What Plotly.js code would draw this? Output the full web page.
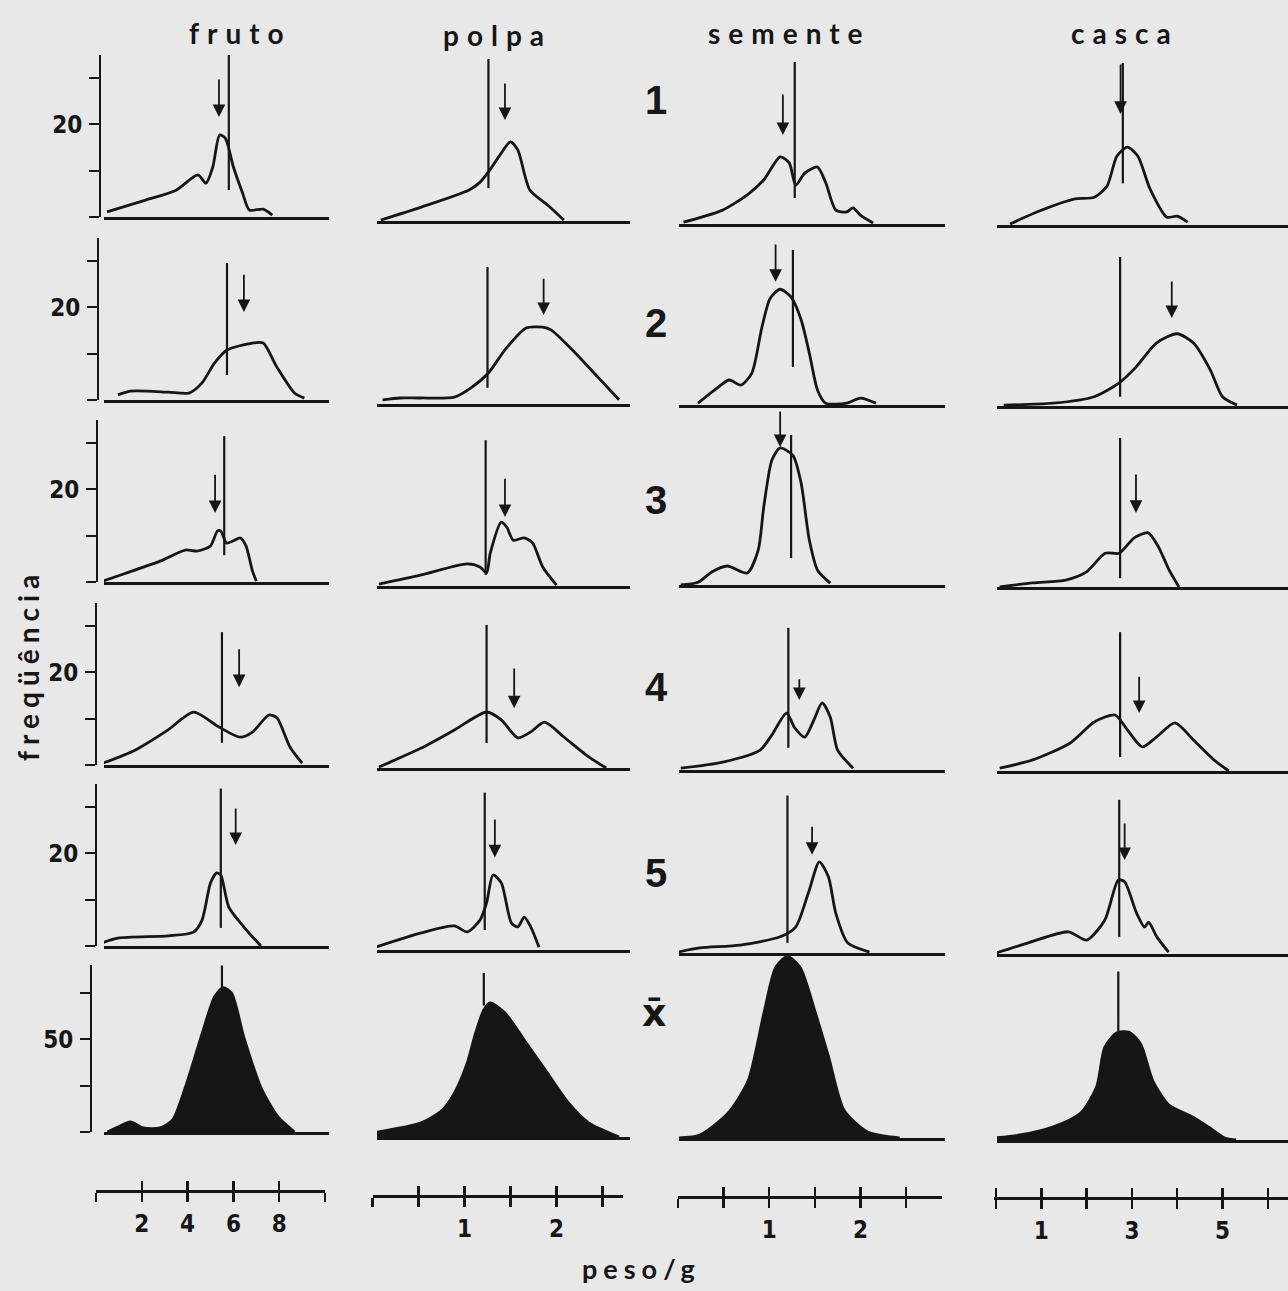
<!DOCTYPE html>
<html><head><meta charset="utf-8">
<script src="https://cdn.plot.ly/plotly-3.0.1.min.js"></script>
<style>body{margin:0;background:#e8e8e8}</style>
</head><body><div id="chart" style="width:1288px;height:1291px"></div>
<script>
// ---------- DATA ----------
const columns = ['fruto', 'polpa', 'semente', 'casca'];
const rowLabels = ['1', '2', '3', '4', '5', 'x̄'];

// row 1
const fruto1_x = [0.48, 2.2, 3.5, 4.45, 4.8, 5.1, 5.4, 5.65, 6.0, 6.4, 6.7, 7.3, 7.7];
const fruto1_y = [1.1, 3.7, 5.8, 9.1, 7.3, 10.8, 17.7, 17, 10.8, 5.2, 1.5, 1.7, 0.4];
const polpa1_x = [0.09, 0.53, 1.05, 1.17, 1.26, 1.37, 1.5, 1.58, 1.71, 1.9, 2.08];
const polpa1_y = [0.2, 3.0, 6.7, 8.4, 10.6, 13.8, 17.1, 15.3, 6.7, 3.5, 0.2];
const semente1_x = [0.06, 0.26, 0.49, 0.76, 0.94, 1.12, 1.22, 1.29, 1.39, 1.53, 1.62, 1.73, 1.85, 1.92, 2.0, 2.14];
const semente1_y = [0.4, 1.5, 3.0, 6.3, 9.5, 14.5, 13.2, 8.4, 11.0, 12.3, 8.9, 3.0, 2.6, 3.5, 1.9, 0.2];
const casca1_x = [0.31, 0.9, 1.72, 2.17, 2.45, 2.67, 2.9, 3.13, 3.4, 3.77, 4.0, 4.23];
const casca1_y = [0.2, 2.8, 5.6, 6.0, 8.4, 14.9, 16.8, 14.9, 7.8, 1.7, 1.9, 0.6];
// row 2
const fruto2_x = [0.96, 1.5, 3.15, 4.06, 4.63, 5.18, 5.72, 6.83, 7.3, 7.9, 8.67, 9.1];
const fruto2_y = [1.1, 1.9, 1.7, 1.5, 3.7, 8.0, 10.8, 12.3, 12.3, 7.1, 1.5, 0.4];
const polpa2_x = [0.11, 0.3, 0.53, 0.89, 1.07, 1.26, 1.44, 1.67, 1.85, 1.94, 2.17, 2.45, 2.68];
const polpa2_y = [0.9, 1.3, 1.3, 1.5, 3.5, 6.7, 11.7, 16.4, 16.6, 16.0, 11.7, 5.8, 0.9];
const semente2_x = [0.22, 0.4, 0.56, 0.69, 0.81, 0.92, 1.01, 1.12, 1.24, 1.35, 1.44, 1.53, 1.62, 1.85, 2.0, 2.17];
const semente2_y = [0.4, 3.2, 5.4, 4.3, 6.9, 16.8, 23, 25, 23.3, 18.4, 11.2, 3.2, 0.4, 0.4, 1.5, 0.4];
const casca2_x = [0.17, 1.26, 2.17, 2.72, 3.09, 3.54, 4.0, 4.36, 4.73, 5.0, 5.32];
const casca2_y = [0.2, 0.6, 2.0, 5.0, 8.4, 13.6, 15.6, 13.6, 7.8, 2.0, 0.2];
// row 3
const fruto3_x = [0.3, 1.3, 2.8, 3.9, 4.45, 5.0, 5.3, 5.45, 5.7, 6.0, 6.3, 6.55, 6.83, 7.0];
const fruto3_y = [0.2, 1.9, 4.5, 6.9, 6.7, 7.8, 11, 11, 8.4, 8.9, 9.5, 7.8, 2.4, 0.2];
const polpa3_x = [0.07, 0.53, 1.03, 1.17, 1.24, 1.28, 1.4, 1.46, 1.53, 1.65, 1.74, 1.85, 2.0];
const polpa3_y = [0.4, 2.4, 4.8, 4.1, 2.8, 7.1, 13.8, 12.7, 9.9, 10.4, 9.3, 4.1, 0.2];
const semente3_x = [0.03, 0.22, 0.37, 0.54, 0.76, 0.88, 0.94, 1.03, 1.12, 1.26, 1.35, 1.44, 1.53, 1.67];
const semente3_y = [0, 0.6, 2.8, 4.1, 2.6, 7.6, 16.8, 27, 29.6, 28, 22, 9.7, 3.2, 0.4];
const casca3_x = [0.08, 0.81, 1.54, 1.99, 2.41, 2.72, 3.05, 3.36, 3.59, 3.82, 4.04];
const casca3_y = [0, 0.9, 1.5, 3.2, 7.3, 7.3, 10.6, 11.7, 8.6, 3.7, 0];
// row 4
const fruto4_x = [0.3, 1.7, 3.15, 4.26, 5.37, 6.3, 6.83, 7.55, 7.9, 8.47, 9.0];
const fruto4_y = [0.4, 3.2, 7.6, 11.4, 8.2, 6.0, 7.1, 10.8, 10.2, 3.9, 0.4];
const polpa4_x = [0.07, 0.53, 0.89, 1.24, 1.4, 1.58, 1.72, 1.87, 2.08, 2.35, 2.54];
const polpa4_y = [0.2, 4.3, 8.2, 12.1, 10.4, 6.5, 7.8, 9.9, 6.7, 2.4, 0];
const semente4_x = [0.03, 0.49, 0.9, 1.03, 1.19, 1.28, 1.39, 1.49, 1.58, 1.67, 1.75, 1.92];
const semente4_y = [0.4, 1.7, 4.3, 7.6, 12.3, 9.1, 7.1, 10.8, 14.5, 11.4, 4.3, 0.4];
const casca4_x = [0.08, 0.81, 1.63, 2.17, 2.63, 2.9, 3.23, 3.54, 3.95, 4.36, 4.81, 5.14];
const casca4_y = [0.6, 2.4, 6.0, 10.6, 12.1, 8.9, 5.2, 7.3, 10.4, 6.7, 2.4, 0];
// row 5
const fruto5_x = [0.22, 0.96, 3.15, 4.26, 4.63, 5.0, 5.27, 5.45, 5.8, 6.46, 7.2];
const fruto5_y = [0.6, 1.7, 2.2, 3.0, 5.6, 13.6, 15.8, 15.3, 8.4, 4.1, 0];
const polpa5_x = [0, 0.53, 0.89, 1.03, 1.17, 1.24, 1.31, 1.4, 1.51, 1.58, 1.65, 1.72, 1.81];
const polpa5_y = [0.4, 3.7, 5.2, 3.9, 6.5, 10.2, 16.2, 14.5, 5.8, 5.0, 7.1, 5.0, 0.6];
const semente5_x = [0, 0.24, 0.68, 1.12, 1.29, 1.43, 1.55, 1.65, 1.73, 1.86, 2.1];
const semente5_y = [0.2, 1.1, 1.7, 3.5, 5.6, 13, 19.7, 16.4, 8.6, 2.2, 0.2];
const casca5_x = [0, 0.71, 1.6, 2.0, 2.4, 2.7, 2.84, 3.1, 3.28, 3.37, 3.55, 3.81];
const casca5_y = [0.2, 2.4, 4.8, 3.0, 7.3, 16, 15.6, 8.9, 5.8, 6.9, 3.7, 0.4];
// mean row (filled)
const frutoM_x = [0.5, 0.96, 1.5, 2.05, 2.8, 3.35, 3.9, 4.63, 5.18, 5.55, 5.92, 6.46, 7.2, 7.95, 8.67];
const frutoM_y = [0, 2.7, 5.4, 2.2, 2.2, 6.5, 24, 53, 73, 78, 75, 51, 24, 8.1, 0];
const polpaM_x = [0, 0.53, 0.76, 0.89, 1.03, 1.12, 1.21, 1.28, 1.44, 1.67, 1.9, 2.13, 2.35, 2.68];
const polpaM_y = [2.2, 7.6, 14.6, 23.7, 40, 56, 68.6, 72.4, 67, 50.8, 34.6, 18.4, 7.6, 0];
const sementeM_x = [0, 0.24, 0.55, 0.77, 0.94, 1.07, 1.2, 1.34, 1.51, 1.65, 1.82, 2.08, 2.43];
const sementeM_y = [0, 1.6, 13.5, 31, 67, 92, 98, 92, 67, 44, 15, 3.2, 0];
const cascaM_x = [-0.04, 0.53, 1.25, 1.87, 2.22, 2.4, 2.66, 2.93, 3.19, 3.46, 3.81, 4.34, 4.69, 5.05, 5.3];
const cascaM_y = [1.1, 2.7, 7, 14.6, 28.6, 50, 57.8, 58.3, 52, 32, 19, 12.4, 7, 1.1, 0];

// vertical mean lines (x, lower end, upper end) per column, rows 1-5 and x̄
const frutoLine_x = [5.8, 5.72, 5.6, 5.5, 5.45, 5.5];
const frutoLine_lo = [5.8, 5.4, 5.8, 4.8, 3.9, 77.8];
const frutoLine_hi = [35, 29.6, 31.5, 28.7, 34, 90];
const polpaLine_x = [1.26, 1.25, 1.23, 1.24, 1.22, 1.21];
const polpaLine_lo = [7.1, 3.5, 2.4, 5.4, 4.3, 71];
const polpaLine_hi = [35, 29.6, 31.5, 30.9, 34, 88.5];
const sementeLine_x = [1.28, 1.26, 1.24, 1.21, 1.2, null];
const sementeLine_lo = [5.6, 8.2, 5.8, 4.8, 2.2, null];
const sementeLine_hi = [35, 33.5, 32.4, 30.7, 34, null];
const cascaLine_x = [2.8, 2.74, 2.74, 2.74, 2.72, 2.7];
const cascaLine_lo = [9, 2, 1.9, 3, 3.7, 58];
const cascaLine_hi = [35, 32.2, 32.2, 30, 33.3, 91];

// arrows (x, tail, tip) per column, rows 1-5
const frutoArrow_x = [5.37, 6.46, 5.2, 6.25, 6.1];
const frutoArrow_top = [30, 27.4, 23.5, 25.3, 30];
const frutoArrow_tip = [21.6, 19, 14.9, 16.8, 21.8];
const polpaArrow_x = [1.44, 1.86, 1.44, 1.54, 1.33];
const polpaArrow_top = [30, 27.4, 23.5, 21.8, 28.5];
const polpaArrow_tip = [21.8, 19.2, 14.9, 12.9, 20];
const sementeArrow_x = [1.15, 1.07, 1.12, 1.33, 1.47];
const sementeArrow_top = [28.3, 35, 37.8, 19.9, 27.6];
const sementeArrow_tip = [19.2, 26.6, 29.8, 15.1, 21.2];
const cascaArrow_x = [2.75, 3.88, 3.09, 3.16, 2.84];
const cascaArrow_top = [35, 27.2, 24.6, 20.7, 28.5];
const cascaArrow_tip = [24, 19, 16, 12.5, 20.3];

// tick labels
const freqTicks = [0, 10, 20, 30];
const freqTickText = ['', '', '20', ''];
const meanFreqTicks = [0, 25, 50, 75];
const meanFreqTickText = ['', '', '50', ''];
const frutoScaleTicks = [0, 2, 4, 6, 8, 10];
const frutoScaleText = ['', '2', '4', '6', '8', ''];
const polpaScaleTicks = [0, 0.5, 1, 1.5, 2, 2.5];
const polpaScaleText = ['', '', '1', '', '2', ''];
const sementeScaleTicks = [0, 0.5, 1, 1.5, 2, 2.5];
const sementeScaleText = ['', '', '1', '', '2', ''];
const cascaScaleTicks = [0, 1, 2, 3, 4, 5, 6];
const cascaScaleText = ['', '1', '', '3', '', '5', ''];

// ---------- assembly ----------
const curvesX = [
  [fruto1_x, polpa1_x, semente1_x, casca1_x],
  [fruto2_x, polpa2_x, semente2_x, casca2_x],
  [fruto3_x, polpa3_x, semente3_x, casca3_x],
  [fruto4_x, polpa4_x, semente4_x, casca4_x],
  [fruto5_x, polpa5_x, semente5_x, casca5_x],
  [frutoM_x, polpaM_x, sementeM_x, cascaM_x]];
const curvesY = [
  [fruto1_y, polpa1_y, semente1_y, casca1_y],
  [fruto2_y, polpa2_y, semente2_y, casca2_y],
  [fruto3_y, polpa3_y, semente3_y, casca3_y],
  [fruto4_y, polpa4_y, semente4_y, casca4_y],
  [fruto5_y, polpa5_y, semente5_y, casca5_y],
  [frutoM_y, polpaM_y, sementeM_y, cascaM_y]];
const lineX = [frutoLine_x, polpaLine_x, sementeLine_x, cascaLine_x];
const lineLo = [frutoLine_lo, polpaLine_lo, sementeLine_lo, cascaLine_lo];
const lineHi = [frutoLine_hi, polpaLine_hi, sementeLine_hi, cascaLine_hi];
const arrX = [frutoArrow_x, polpaArrow_x, sementeArrow_x, cascaArrow_x];
const arrTop = [frutoArrow_top, polpaArrow_top, sementeArrow_top, cascaArrow_top];
const arrTip = [frutoArrow_tip, polpaArrow_tip, sementeArrow_tip, cascaArrow_tip];
const scaleTicks = [frutoScaleTicks, polpaScaleTicks, sementeScaleTicks, cascaScaleTicks];
const scaleText = [frutoScaleText, polpaScaleText, sementeScaleText, cascaScaleText];

// layout geometry (pixels)
const W = 1288, H = 1291;
const ink = '#161616';
const colX0 = [96, 372.5, 678, 996];
const colK = [22.9, 92, 91.2, 45.3];
const colL = [104, 377, 679, 997];
const colR = [329, 630, 945, 1288];
const baseY = [[217, 221, 224, 225], [400, 404, 405, 406], [582, 586, 585, 587],
               [765, 768, 770, 771], [946, 950, 953, 954], [1132, 1137, 1138, 1140]];
const rowKy = [4.63, 4.63, 4.63, 4.63, 4.63, 1.852];
const yMax = [[35, 35, 35, 35], [35, 35, 35, 35], [35, 35, 35, 35], [35, 35, 35, 35],
              [35, 35, 35, 35], [90, 90, 100, 92]];
const frutoAxisX = [100, 98, 97, 96, 96, 91];
const scaleL = [96, 372.5, 678, 994];
const scaleR = [325, 623, 942, 1288];
const scaleY = [1190, 1195, 1196, 1197];

const narrow = 'Liberation Sans Narrow, DejaVu Sans Condensed, Arial Narrow, sans-serif';
const px = v => v / W, py = v => 1 - v / H;

const data = [];
const annotations = [];
const layout = {
  width: W, height: H, margin: {l: 0, r: 0, t: 0, b: 0},
  paper_bgcolor: '#e8e8e8', plot_bgcolor: 'rgba(0,0,0,0)',
  showlegend: false, annotations: annotations
};

for (let r = 0; r < 6; r++) {
  for (let c = 0; c < 4; c++) {
    const i = r * 4 + c + 1;
    const s = i === 1 ? '' : String(i);
    const xa = 'x' + s, ya = 'y' + s;
    const base = baseY[r][c];
    const ym = yMax[r][c];
    layout['xaxis' + s] = {
      domain: [px(colL[c]), px(colR[c])],
      range: [(colL[c] - colX0[c]) / colK[c], (colR[c] - colX0[c]) / colK[c]],
      anchor: ya, showline: true, linewidth: 3, linecolor: ink,
      showgrid: false, zeroline: false, ticks: '', showticklabels: false, fixedrange: true
    };
    const yax = {
      domain: [py(base), py(base - ym * rowKy[r])],
      range: [0, ym], showgrid: false, zeroline: false, fixedrange: true
    };
    if (c === 0) {
      Object.assign(yax, {
        anchor: 'free', position: px(frutoAxisX[r]),
        showline: true, linewidth: 2, linecolor: ink,
        ticks: 'outside', ticklen: 10, tickwidth: 2, tickcolor: ink,
        tickvals: r === 5 ? meanFreqTicks : freqTicks,
        ticktext: r === 5 ? meanFreqTickText : freqTickText,
        tickfont: {family: narrow, size: 24, color: ink, weight: 'bold'},
        ticklabelstandoff: 2
      });
    } else {
      yax.visible = false;
    }
    layout['yaxis' + s] = yax;

    data.push({
      x: curvesX[r][c], y: curvesY[r][c], xaxis: xa, yaxis: ya,
      mode: 'lines', hoverinfo: 'skip',
      line: {color: ink, width: 2.8, shape: 'spline', smoothing: 0.7},
      fill: r === 5 ? 'tozeroy' : 'none', fillcolor: ink
    });
    const lx = lineX[c][r];
    if (lx !== null) {
      data.push({
        x: [lx, lx], y: [lineLo[c][r], lineHi[c][r]], xaxis: xa, yaxis: ya,
        mode: 'lines', hoverinfo: 'skip', line: {color: ink, width: 2.2}
      });
    }
    if (r < 5) {
      annotations.push({
        xref: xa, yref: ya, axref: xa, ayref: ya,
        x: arrX[c][r], y: arrTip[c][r], ax: arrX[c][r], ay: arrTop[c][r],
        text: '', showarrow: true, arrowhead: 2, arrowsize: 1.4, arrowwidth: 1.8,
        arrowcolor: ink, standoff: 0, startstandoff: 0
      });
    }
  }
}

// bottom weight scales: an axis with outward ticks plus an overlaid axis with inward ticks
for (let c = 0; c < 4; c++) {
  const i = 25 + c, j = 29 + c;
  const ya = 'y' + i;
  const rng = [(scaleL[c] - colX0[c]) / colK[c], (scaleR[c] - colX0[c]) / colK[c]];
  layout['xaxis' + i] = {
    domain: [px(scaleL[c]), px(scaleR[c])], range: rng,
    anchor: ya, showline: true, linewidth: 2.6, linecolor: ink,
    ticks: 'outside', ticklen: 9, tickwidth: 2.4, tickcolor: ink,
    tickvals: scaleTicks[c], ticktext: scaleText[c],
    tickfont: {family: narrow, size: 24, color: ink, weight: 'bold'},
    ticklabelstandoff: 2,
    showgrid: false, zeroline: false, fixedrange: true
  };
  layout['xaxis' + j] = {
    overlaying: 'x' + i, anchor: ya, side: 'bottom', range: rng,
    showline: false, ticks: 'inside', ticklen: 9, tickwidth: 2.4, tickcolor: ink,
    tickvals: scaleTicks[c], showticklabels: false,
    showgrid: false, zeroline: false, fixedrange: true
  };
  layout['yaxis' + i] = {
    domain: [py(scaleY[c]), py(scaleY[c] - 20)], range: [0, 1], visible: false, fixedrange: true
  };
  data.push({x: [null], y: [null], xaxis: 'x' + i, yaxis: ya, mode: 'lines', hoverinfo: 'skip'});
  data.push({x: [null], y: [null], xaxis: 'x' + j, yaxis: ya, mode: 'lines', hoverinfo: 'skip'});
}

// titles and labels
const titleFont = {family: 'Lato, Open Sans, sans-serif', size: 28, color: ink, weight: 'bold'};
const titlePos = [[240, 33], [497, 35], [789, 33], [1125, 33]];
columns.forEach((t, c) => annotations.push({
  xref: 'paper', yref: 'paper', x: px(titlePos[c][0]), y: py(titlePos[c][1]),
  xanchor: 'center', yanchor: 'middle', text: t, showarrow: false, font: titleFont
}));
const rowLabelY = [100, 323, 500, 687, 873, 1013];
rowLabels.forEach((t, r) => annotations.push({
  xref: 'paper', yref: 'paper', x: px(r < 5 ? 656 : 654), y: py(rowLabelY[r]),
  xanchor: 'center', yanchor: 'middle', text: t, showarrow: false,
  font: {family: r < 5 ? 'Liberation Sans, Arial, sans-serif' : 'DejaVu Sans, sans-serif',
         size: r < 5 ? 40 : 38, color: ink, weight: 'bold'}
}));
annotations.push({
  xref: 'paper', yref: 'paper', x: px(28), y: py(665), xanchor: 'center', yanchor: 'middle',
  text: 'freqüência', textangle: -90, showarrow: false,
  font: {family: 'Lato, Open Sans, sans-serif', size: 28, color: ink, weight: 'bold'}
});
annotations.push({
  xref: 'paper', yref: 'paper', x: px(641), y: py(1268), xanchor: 'center', yanchor: 'middle',
  text: 'peso/g', showarrow: false,
  font: {family: 'Lato, Open Sans, sans-serif', size: 27, color: ink, weight: 'bold'}
});

const spacing = {'fruto': 8, 'polpa': 8, 'semente': 8, 'casca': 8, 'freqüência': 6, 'peso/g': 6};
Plotly.newPlot('chart', data, layout, {staticPlot: true}).then(() => {
  document.querySelectorAll('.annotation-text').forEach(el => {
    const sp = spacing[el.textContent];
    if (sp) el.style.letterSpacing = sp + 'px';
  });
});
</script></body></html>
